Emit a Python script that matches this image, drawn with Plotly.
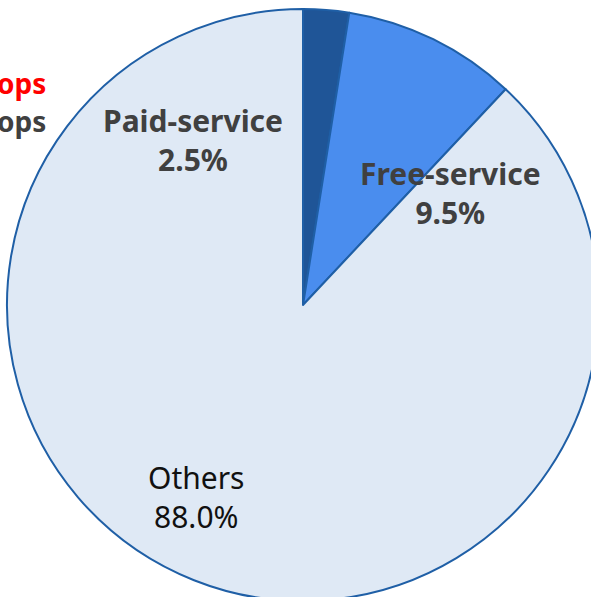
import plotly.graph_objects as go

# Market share by service type
categories = ["Paid-service", "Free-service", "Others"]
shares = [2.5, 9.5, 88.0]
slice_colors = ["#1F5597", "#4A8DEE", "#DFE9F5"]

# Canvas is a bit wider than the view so the pie can bleed off the right/bottom edges
W, H = 606, 610
CX, CY, R = 303, 305, 296  # pie centre and radius in pixels


def px_x(x):
    return x / W


def px_y(y):
    return 1 - y / H


fig = go.Figure()
fig.add_trace(go.Pie(
    labels=categories,
    values=shares,
    sort=False,
    direction="clockwise",
    rotation=0,
    textinfo="none",
    hoverinfo="label+percent",
    marker=dict(colors=slice_colors, line=dict(color="#1F5FA6", width=2)),
    domain=dict(x=[px_x(CX - R), px_x(CX + R)], y=[px_y(CY + R), px_y(CY - R)]),
    showlegend=False,
))

# Slice labels
label_pos = {
    "Paid-service": (193, 140, True, "#404040"),
    "Free-service": (450, 193, True, "#404040"),
    "Others": (196, 497, False, "#111111"),
}
for name, val in zip(categories, shares):
    x, y, bold, color = label_pos[name]
    txt = f"{name}<br>{val:.1f}%"
    if bold:
        txt = f"<b>{name}</b><br><b>{val:.1f}%</b>"
    fig.add_annotation(
        x=px_x(x), y=px_y(y), xref="paper", yref="paper",
        text=txt, showarrow=False, xanchor="center", yanchor="middle",
        font=dict(family="Noto Sans", size=30, color=color),
    )

# Heading fragments at the left edge
fig.add_annotation(x=px_x(48), y=px_y(83), xref="paper", yref="paper",
                   text="<b>ops</b>", showarrow=False, xanchor="right", yanchor="middle",
                   font=dict(family="Noto Sans", size=28, color="#FF0000"))
fig.add_annotation(x=px_x(48), y=px_y(121), xref="paper", yref="paper",
                   text="<b>ops</b>", showarrow=False, xanchor="right", yanchor="middle",
                   font=dict(family="Noto Sans", size=28, color="#404040"))

fig.update_layout(
    width=W, height=H,
    margin=dict(l=0, r=0, t=0, b=0),
    paper_bgcolor="white",
    plot_bgcolor="white",
)

fig.write_html(
    "out.html",
    post_script="document.documentElement.style.overflow='hidden';document.body.style.overflow='hidden';document.body.style.margin='0';",
)
